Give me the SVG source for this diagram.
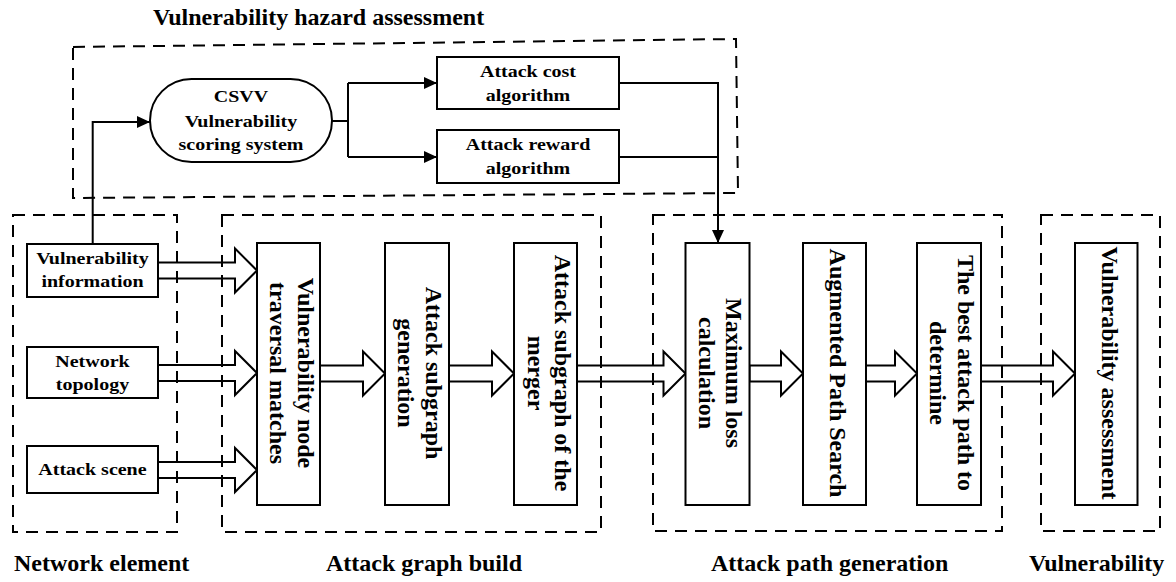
<svg xmlns="http://www.w3.org/2000/svg" width="1176" height="582" viewBox="0 0 1176 582">
<style>
text{font-family:"Liberation Serif","Times New Roman",serif;font-weight:bold;fill:#000}
.h{font-size:20px;text-anchor:middle}
.v{font-size:24px;text-anchor:middle}
.lab{font-size:24px}
.box{fill:#fff;stroke:#000;stroke-width:2}
.dash{fill:none;stroke:#000;stroke-width:2;stroke-dasharray:12 8}
.ln{fill:none;stroke:#000;stroke-width:2}
.blk{fill:#fff;stroke:#000;stroke-width:2;stroke-linejoin:miter}
</style>
<defs>
<marker id="ah" markerUnits="userSpaceOnUse" markerWidth="13" markerHeight="12" refX="13" refY="6" orient="auto">
<path d="M0,0 L13,6 L0,12 Z" fill="#000"/>
</marker>
</defs>
<rect width="1176" height="582" fill="#fff"/>

<g id="connectors">
<path class="ln" d="M92.7,244 V122 H150" marker-end="url(#ah)"/>
<path class="ln" d="M332,121 H348 M348,83 V157"/>
<path class="ln" d="M348,83 H437" marker-end="url(#ah)"/>
<path class="ln" d="M348,157 H437" marker-end="url(#ah)"/>
<path class="ln" d="M619,157 H718"/>
<path class="ln" d="M619,83 H718 V243" marker-end="url(#ah)"/>
<polygon class="blk" points="158,262.5 235,262.5 235,248.5 257,270.5 235,292.5 235,278.5 158,278.5"/>
<polygon class="blk" points="158,365 235,365 235,351 257,373 235,395 235,381 158,381"/>
<polygon class="blk" points="158,462 235,462 235,448 257,470 235,492 235,478 158,478"/>
<polygon class="blk" points="320,365.5 363,365.5 363,351.5 385,373.5 363,395.5 363,381.5 320,381.5"/>
<polygon class="blk" points="449,365.5 492,365.5 492,351.5 514,373.5 492,395.5 492,381.5 449,381.5"/>
<polygon class="blk" points="577,365.5 663.5,365.5 663.5,351.5 685.5,373.5 663.5,395.5 663.5,381.5 577,381.5"/>
<polygon class="blk" points="749.5,365.5 781,365.5 781,351.5 803,373.5 781,395.5 781,381.5 749.5,381.5"/>
<polygon class="blk" points="866,365.5 895,365.5 895,351.5 917,373.5 895,395.5 895,381.5 866,381.5"/>
<polygon class="blk" points="981,365.5 1053,365.5 1053,351.5 1075,373.5 1053,395.5 1053,381.5 981,381.5"/>
</g>

<g id="group-hazard">
<path class="dash" d="M73,47 L736,39 L738,193 L73,198 Z"/>
<text class="lab" x="153" y="25">Vulnerability hazard assessment</text>
</g>
<g id="group-network">
<rect class="dash" x="13" y="215" width="164" height="317"/>
<text class="lab" x="14" y="571">Network element</text>
</g>
<g id="group-graph">
<rect class="dash" x="222" y="215" width="379" height="317"/>
<text class="lab" x="326" y="571">Attack graph build</text>
</g>
<g id="group-path">
<rect class="dash" x="653" y="215" width="349" height="316"/>
<text class="lab" x="711" y="571">Attack path generation</text>
</g>
<g id="group-vuln">
<rect class="dash" x="1041" y="215" width="119" height="316"/>
<text class="lab" x="1029" y="571">Vulnerability</text>
</g>

<g id="csvv">
<rect class="box" x="150" y="79" width="182" height="83" rx="41.5" ry="41.5"/>
<text class="h" transform="translate(241,102) scale(1,0.88)">CSVV</text>
<text class="h" transform="translate(241,127) scale(1,0.88)">Vulnerability</text>
<text class="h" transform="translate(241,150) scale(1,0.88)">scoring system</text>
</g>
<g id="attack-cost">
<rect class="box" x="437" y="57" width="182" height="52"/>
<text class="h" transform="translate(528,77) scale(1,0.88)">Attack cost</text>
<text class="h" transform="translate(528,101) scale(1,0.88)">algorithm</text>
</g>
<g id="attack-reward">
<rect class="box" x="437" y="130" width="182" height="53"/>
<text class="h" transform="translate(528,150) scale(1,0.88)">Attack reward</text>
<text class="h" transform="translate(528,174) scale(1,0.88)">algorithm</text>
</g>
<g id="vuln-info">
<rect class="box" x="27" y="244" width="131" height="53"/>
<text class="h" transform="translate(92.5,264) scale(1,0.88)">Vulnerability</text>
<text class="h" transform="translate(92.5,287) scale(1,0.88)">information</text>
</g>
<g id="net-topology">
<rect class="box" x="27" y="347" width="131" height="51"/>
<text class="h" transform="translate(92.5,367) scale(1,0.88)">Network</text>
<text class="h" transform="translate(92.5,390) scale(1,0.88)">topology</text>
</g>
<g id="attack-scene">
<rect class="box" x="27" y="446" width="131" height="47"/>
<text class="h" transform="translate(92.5,475) scale(1,0.88)">Attack scene</text>
</g>

<g id="node-traversal">
<rect class="box" x="257" y="243" width="63" height="262"/>
<text class="v" transform="translate(298,373) rotate(90)">Vulnerability node</text>
<text class="v" transform="translate(270,373) rotate(90)">traversal matches</text>
</g>
<g id="node-subgraph">
<rect class="box" x="385" y="243" width="64" height="262"/>
<text class="v" transform="translate(426,373) rotate(90)">Attack subgraph</text>
<text class="v" transform="translate(398,373) rotate(90)">generation</text>
</g>
<g id="node-merger">
<rect class="box" x="514" y="243" width="63" height="262"/>
<text class="v" transform="translate(555,373) rotate(90)">Attack subgraph of the</text>
<text class="v" transform="translate(528,373) rotate(90)">merger</text>
</g>
<g id="node-maxloss">
<rect class="box" x="685.5" y="243" width="64" height="262"/>
<text class="v" transform="translate(726,373) rotate(90)">Maximum loss</text>
<text class="v" transform="translate(699,373) rotate(90)">calculation</text>
</g>
<g id="node-augmented">
<rect class="box" x="803" y="243" width="63" height="262"/>
<text class="v" transform="translate(830,373) rotate(90)">Augmented Path Search</text>
</g>
<g id="node-best">
<rect class="box" x="917" y="243" width="64" height="262"/>
<text class="v" transform="translate(958,373) rotate(90)">The best attack path to</text>
<text class="v" transform="translate(930,373) rotate(90)">determine</text>
</g>
<g id="node-assessment">
<rect class="box" x="1075" y="243" width="62.5" height="262"/>
<text class="v" transform="translate(1101.5,373) rotate(90)">Vulnerability assessment</text>
</g>
</svg>
